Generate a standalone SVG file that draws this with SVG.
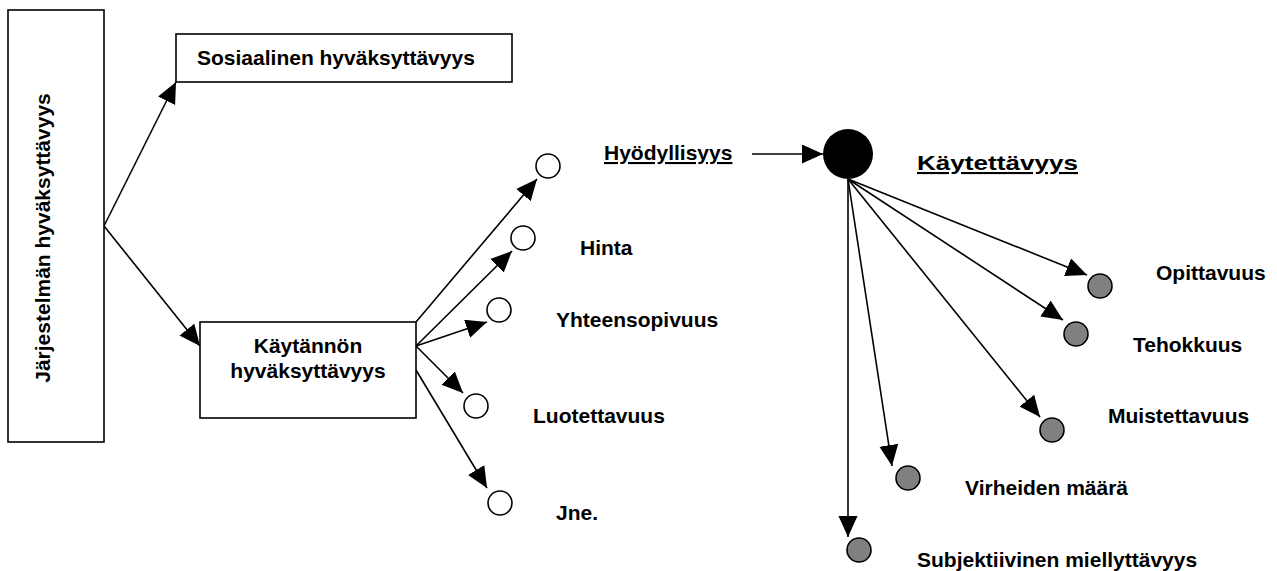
<svg xmlns="http://www.w3.org/2000/svg" width="1277" height="571" viewBox="0 0 1277 571">
<style>
.box{fill:#fff;stroke:#000;stroke-width:1.6}
.t{font-family:"Liberation Sans",Arial,sans-serif;font-weight:bold;font-size:21px;fill:#000}
.c{fill:#fff;stroke:#000;stroke-width:1.6}
.g{fill:#808080;stroke:#000;stroke-width:1.6}
.e{stroke:#000;stroke-width:1.6;fill:none;marker-end:url(#ah)}
</style>
<defs>
<marker id="ah" markerUnits="userSpaceOnUse" markerWidth="22" markerHeight="20" refX="21" refY="9.5" orient="auto">
<path d="M0,0 L21,9.5 L0,19 z" fill="#000"/>
</marker>
</defs>
<g id="connectors">
<line class="e" x1="104" y1="226" x2="176" y2="82"/>
<line class="e" x1="104" y1="226" x2="200" y2="346"/>
<line class="e" x1="416" y1="322" x2="537" y2="179"/>
<line class="e" x1="416" y1="346" x2="512" y2="251"/>
<line class="e" x1="416" y1="346" x2="487" y2="322"/>
<line class="e" x1="416" y1="346" x2="463" y2="393"/>
<line class="e" x1="416" y1="370" x2="487" y2="488"/>
<line class="e" x1="752" y1="154" x2="823" y2="154"/>
<line class="e" x1="848" y1="179" x2="1087" y2="275"/>
<line class="e" x1="848" y1="179" x2="1063" y2="320"/>
<line class="e" x1="848" y1="179" x2="1040" y2="417"/>
<line class="e" x1="848" y1="179" x2="892" y2="466"/>
<line class="e" x1="848" y1="179" x2="848" y2="537"/>
</g>
<g id="jarjestelman">
<rect class="box" x="8" y="10" width="96" height="432"/>
<text class="t" text-anchor="middle" transform="translate(50,238) rotate(-90)">Järjestelmän hyväksyttävyys</text>
</g>
<g id="sosiaalinen">
<rect class="box" x="176" y="34" width="336" height="48"/>
<text class="t" x="197" y="65">Sosiaalinen hyväksyttävyys</text>
</g>
<g id="kaytannon">
<rect class="box" x="200" y="322" width="216" height="96"/>
<text class="t" x="308" y="353" text-anchor="middle">Käytännön</text>
<text class="t" x="308" y="378" text-anchor="middle">hyväksyttävyys</text>
</g>
<g id="hyodyllisyys">
<circle class="c" cx="548" cy="166" r="12"/>
<text class="t" x="604" y="160" text-decoration="underline">Hyödyllisyys</text>
</g>
<g id="hinta">
<circle class="c" cx="523" cy="238" r="12"/>
<text class="t" x="580" y="255">Hinta</text>
</g>
<g id="yhteensopivuus">
<circle class="c" cx="499" cy="310" r="12"/>
<text class="t" x="556" y="327">Yhteensopivuus</text>
</g>
<g id="luotettavuus">
<circle class="c" cx="476" cy="406" r="12"/>
<text class="t" x="533" y="423">Luotettavuus</text>
</g>
<g id="jne">
<circle class="c" cx="500" cy="503" r="12"/>
<text class="t" x="556" y="520">Jne.</text>
</g>
<g id="kaytettavyys">
<circle cx="848" cy="154" r="25" fill="#000"/>
<text class="t" x="917" y="170" font-size="26" textLength="161" lengthAdjust="spacingAndGlyphs" text-decoration="underline">Käytettävyys</text>
</g>
<g id="opittavuus">
<circle class="g" cx="1100" cy="286" r="12"/>
<text class="t" x="1156" y="280">Opittavuus</text>
</g>
<g id="tehokkuus">
<circle class="g" cx="1076" cy="334" r="12"/>
<text class="t" x="1133" y="352">Tehokkuus</text>
</g>
<g id="muistettavuus">
<circle class="g" cx="1052" cy="430" r="12"/>
<text class="t" x="1108" y="423">Muistettavuus</text>
</g>
<g id="virheiden">
<circle class="g" cx="908" cy="478" r="12"/>
<text class="t" x="965" y="495">Virheiden määrä</text>
</g>
<g id="subjektiivinen">
<circle class="g" cx="859" cy="550" r="12"/>
<text class="t" x="917" y="567">Subjektiivinen miellyttävyys</text>
</g>
</svg>
